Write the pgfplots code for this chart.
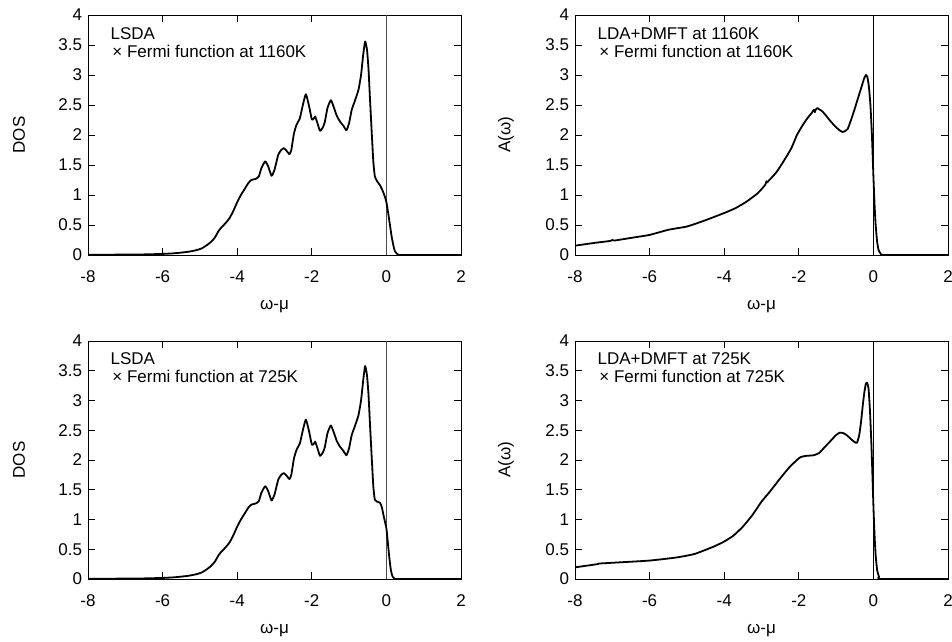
\documentclass[border=0pt]{standalone}
\usepackage{fontspec}
\setmainfont{Liberation Sans}
\usepackage{pgfplots}
\pgfplotsset{compat=1.18}

% LSDA DOS, Fermi function at 1160K
\pgfplotstableread{
x y
-8 0.003
-7.5 0.005
-7 0.007
-6.5 0.01
-6 0.018
-5.7 0.028
-5.5 0.04
-5.3 0.055
-5.1 0.08
-4.95 0.11
-4.8 0.17
-4.7 0.22
-4.6 0.29
-4.5 0.40
-4.45 0.44
-4.3 0.54
-4.2 0.62
-4.1 0.74
-4.0 0.88
-3.9 1.0
-3.8 1.1
-3.7 1.2
-3.62 1.25
-3.5 1.27
-3.42 1.31
-3.35 1.45
-3.25 1.56
-3.17 1.48
-3.08 1.32
-3.0 1.42
-2.9 1.67
-2.82 1.75
-2.75 1.78
-2.68 1.74
-2.6 1.68
-2.55 1.75
-2.48 2.02
-2.41 2.17
-2.32 2.28
-2.24 2.5
-2.16 2.68
-2.08 2.5
-2.0 2.26
-1.95 2.27
-1.91 2.31
-1.85 2.2
-1.78 2.07
-1.7 2.13
-1.65 2.22
-1.58 2.45
-1.49 2.58
-1.42 2.48
-1.33 2.32
-1.25 2.23
-1.15 2.15
-1.07 2.08
-1.0 2.2
-0.93 2.42
-0.85 2.56
-0.75 2.75
-0.68 3.0
-0.62 3.35
-0.57 3.56
-0.52 3.42
-0.48 3.1
-0.44 2.6
-0.39 2.0
-0.35 1.55
-0.31 1.31
-0.25 1.23
-0.17 1.16
-0.1 1.07
-0.04 0.97
0.0 0.88
0.05 0.69
0.1 0.48
0.14 0.31
0.19 0.15
0.23 0.06
0.3 0.015
0.4 0.0
2.0 0.0
}\lsdahigh

% LSDA DOS, Fermi function at 725K
\pgfplotstableread{
x y
-8 0.003
-7.5 0.005
-7 0.007
-6.5 0.01
-6 0.018
-5.7 0.028
-5.5 0.04
-5.3 0.055
-5.1 0.08
-4.95 0.11
-4.8 0.17
-4.7 0.22
-4.6 0.29
-4.5 0.40
-4.45 0.44
-4.3 0.54
-4.2 0.62
-4.1 0.74
-4.0 0.88
-3.9 1.0
-3.8 1.1
-3.7 1.2
-3.62 1.25
-3.5 1.27
-3.42 1.31
-3.35 1.45
-3.25 1.56
-3.17 1.48
-3.08 1.32
-3.0 1.42
-2.9 1.67
-2.82 1.75
-2.75 1.78
-2.68 1.74
-2.6 1.68
-2.55 1.75
-2.48 2.02
-2.41 2.17
-2.32 2.28
-2.24 2.5
-2.16 2.68
-2.08 2.5
-2.0 2.26
-1.95 2.27
-1.91 2.31
-1.85 2.2
-1.78 2.07
-1.7 2.13
-1.65 2.22
-1.58 2.45
-1.49 2.58
-1.42 2.48
-1.33 2.32
-1.25 2.23
-1.15 2.15
-1.07 2.08
-1.0 2.2
-0.93 2.42
-0.85 2.56
-0.75 2.75
-0.68 3.0
-0.62 3.35
-0.57 3.58
-0.52 3.42
-0.48 3.1
-0.44 2.6
-0.39 2.0
-0.35 1.55
-0.31 1.33
-0.25 1.30
-0.17 1.28
-0.12 1.2
-0.07 1.05
0.0 0.85
0.04 0.6
0.08 0.35
0.12 0.15
0.16 0.05
0.21 0.01
0.3 0.0
2.0 0.0
}\lsdalow

% LDA+DMFT at 1160K
\pgfplotstableread{
x y
-8 0.155
-7.5 0.20
-7.05 0.235
-7.0 0.25
-6.95 0.24
-6.5 0.285
-6 0.335
-5.5 0.42
-5 0.475
-4.5 0.58
-4 0.70
-3.7 0.78
-3.4 0.89
-3.1 1.03
-2.9 1.17
-2.87 1.23
-2.85 1.21
-2.6 1.38
-2.4 1.57
-2.2 1.78
-2.05 2.0
-1.9 2.16
-1.77 2.28
-1.65 2.37
-1.6 2.42
-1.57 2.38
-1.55 2.42
-1.5 2.45
-1.46 2.43
-1.38 2.40
-1.28 2.33
-1.15 2.23
-1.05 2.16
-0.93 2.09
-0.83 2.05
-0.75 2.07
-0.69 2.10
-0.6 2.25
-0.51 2.42
-0.42 2.6
-0.33 2.78
-0.25 2.94
-0.2 3.0
-0.16 2.96
-0.12 2.8
-0.08 2.5
-0.04 2.0
0.0 1.31
0.03 0.85
0.06 0.5
0.1 0.22
0.14 0.08
0.2 0.02
0.3 0.0
2 0
}\dmfthigh

% LDA+DMFT at 725K
\pgfplotstableread{
x y
-8 0.196
-7.4 0.25
-7.35 0.26
-6.8 0.28
-6 0.31
-5.3 0.36
-4.8 0.42
-4.3 0.54
-4.0 0.63
-3.75 0.73
-3.5 0.88
-3.25 1.07
-3.0 1.30
-2.8 1.45
-2.5 1.69
-2.25 1.88
-2.05 2.0
-1.95 2.05
-1.8 2.07
-1.6 2.08
-1.45 2.12
-1.3 2.22
-1.15 2.32
-1.0 2.42
-0.9 2.46
-0.8 2.45
-0.7 2.41
-0.6 2.35
-0.5 2.30
-0.44 2.29
-0.38 2.42
-0.33 2.65
-0.28 2.95
-0.24 3.15
-0.2 3.29
-0.17 3.3
-0.13 3.2
-0.09 2.8
-0.05 2.2
0.0 1.23
0.03 0.75
0.06 0.4
0.1 0.15
0.15 0.04
0.21 0.0
2 0
}\dmftlow

\pgfplotsset{
  panel/.style={
    scale only axis, width=373pt, height=240pt,
    anchor=south west,
    xmin=-8, xmax=2, ymin=0, ymax=4,
    xtick={-8,-6,-4,-2,0,2},
    ytick={0,0.5,1,1.5,2,2.5,3,3.5,4},
    axis line style={line width=0.8pt},
    every tick/.style={black, line width=0.8pt},
    major tick length=7pt,
    tick label style={font=\fontsize{17}{20}\selectfont},
    label style={font=\fontsize{17}{20}\selectfont},
    /pgf/number format/assume math mode=true,
    xticklabel style={yshift=-12pt},
    yticklabel style={xshift=-2.5pt},
    xlabel={ω-μ},
    xlabel style={at={(axis description cs:0.5,0)}, anchor=center, yshift=-52pt},
    ylabel style={at={(axis description cs:-0.185,0.5)}, anchor=center},
  },
  curve/.style={black, line width=1.8pt, line join=round, mark=none, smooth, tension=0.3},
  zero/.style={line width=0.7pt, mark=none},
}
\tikzset{note/.style={anchor=base west, font=\fontsize{17}{20}\selectfont}}

\begin{document}
\begin{tikzpicture}
\useasboundingbox (0,0) rectangle (952pt,641pt);

\begin{axis}[panel, at={(88pt,386pt)}, ylabel={DOS}]
\addplot[zero, black!70] coordinates {(0,0) (0,4)};
\addplot[curve] table {\lsdahigh};
\node[note] at (rel axis cs:0.051,0.9) {LSDA};
\node[note] at (rel axis cs:0.056,0.825) {× Fermi function at 1160K};
\end{axis}

\begin{axis}[panel, at={(575pt,386pt)}, ylabel={A(ω)}]
\addplot[zero, black] coordinates {(0,0) (0,4)};
\addplot[curve] table {\dmfthigh};
\node[note] at (rel axis cs:0.051,0.9) {LDA+DMFT at 1160K};
\node[note] at (rel axis cs:0.056,0.825) {× Fermi function at 1160K};
\end{axis}

\begin{axis}[panel, height=238pt, at={(88pt,62pt)}, ylabel={DOS}]
\addplot[zero, black!70] coordinates {(0,0) (0,4)};
\addplot[curve] table {\lsdalow};
\node[note] at (rel axis cs:0.051,0.9) {LSDA};
\node[note] at (rel axis cs:0.056,0.825) {× Fermi function at 725K};
\end{axis}

\begin{axis}[panel, height=238pt, at={(575pt,62pt)}, ylabel={A(ω)}]
\addplot[zero, black] coordinates {(0,0) (0,4)};
\addplot[curve] table {\dmftlow};
\node[note] at (rel axis cs:0.051,0.9) {LDA+DMFT at 725K};
\node[note] at (rel axis cs:0.056,0.825) {× Fermi function at 725K};
\end{axis}
\end{tikzpicture}
\end{document}
